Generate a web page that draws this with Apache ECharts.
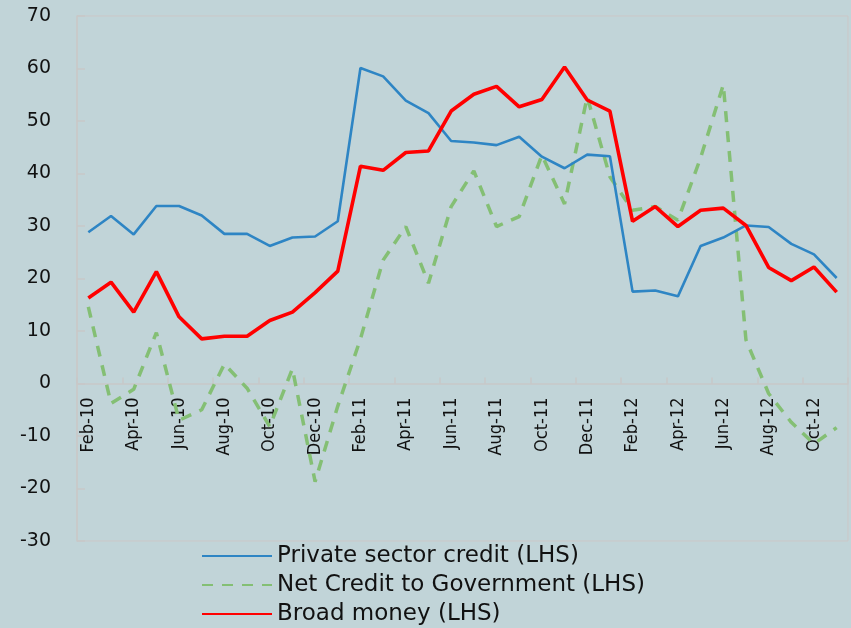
<!DOCTYPE html>
<html>
<head>
<meta charset="utf-8">
<script src="https://cdn.jsdelivr.net/npm/echarts@6/dist/echarts.min.js"></script>
<style>
html,body{margin:0;padding:0;background:#c1d4d8;}
#c{width:851px;height:628px;}
</style>
</head>
<body>
<div id="c"></div>
<script>
const months = ['Feb-10','Mar-10','Apr-10','May-10','Jun-10','Jul-10','Aug-10','Sep-10','Oct-10','Nov-10','Dec-10','Jan-11',
  'Feb-11','Mar-11','Apr-11','May-11','Jun-11','Jul-11','Aug-11','Sep-11','Oct-11','Nov-11','Dec-11','Jan-12',
  'Feb-12','Mar-12','Apr-12','May-12','Jun-12','Jul-12','Aug-12','Sep-12','Oct-12','Nov-12'];
const privateCredit = [28.8,31.9,28.4,33.8,33.8,32.0,28.5,28.5,26.2,27.8,28.0,30.9,
  60.1,58.5,53.9,51.5,46.2,45.9,45.4,47.0,43.2,41.0,43.6,43.3,
  17.5,17.7,16.6,26.2,27.8,30.1,29.8,26.6,24.6,20.1];
const netCreditGov = [14.6,-3.8,-1.1,9.7,-7.0,-5.0,3.7,-0.9,-8.2,2.8,-18.7,-4.3,
  8.5,23.5,29.9,19.1,33.7,40.5,29.9,31.8,43.5,34.2,54.6,39.4,
  33.0,33.7,31.1,43.0,56.9,8.3,-1.9,-7.4,-11.5,-8.4];
const broadMoney = [16.3,19.3,13.6,21.3,12.7,8.5,9.0,9.0,12.0,13.6,17.3,21.4,
  41.4,40.6,44.0,44.3,51.9,55.1,56.6,52.7,54.1,60.3,54.0,51.9,
  30.9,33.7,29.9,33.0,33.4,30.1,22.1,19.6,22.2,17.4];
const seriesNames = ['Private sector credit (LHS)','Net Credit to Government (LHS)','Broad money (LHS)'];

const legendTops = [539, 568, 597];
const legends = seriesNames.map((n, i) => ({
  orient: 'vertical', left: 196, top: legendTops[i],
  itemWidth: 70, itemHeight: 14, itemGap: 0,
  itemStyle: {color: 'transparent', borderColor: 'transparent', borderWidth: 0, opacity: 0},
  textStyle: {fontFamily: 'DejaVu Sans', fontSize: 23, color: '#111', lineHeight: 24},
  data: [n]
}));

const chart = echarts.init(document.getElementById('c'));
chart.setOption({
  backgroundColor: '#c1d4d8',
  animation: false,
  grid: {left: 77, right: 3, top: 16, bottom: 87, show: true, borderColor: '#cbc7c7', borderWidth: 1, backgroundColor: 'transparent'},
  legend: legends,
  xAxis: {
    type: 'category', data: months, boundaryGap: true,
    offset: -157.5,
    axisLine: {onZero: true, lineStyle: {color: '#c8c8c8', width: 1.5}},
    axisTick: {show: true, inside: true, length: 6, interval: 1, lineStyle: {color: '#c8c8c8', width: 1.5}},
    axisLabel: {interval: 1, rotate: 90, margin: 14, fontFamily: 'DejaVu Sans Condensed, DejaVu Sans', fontSize: 18, color: '#111'},
    splitLine: {show: false}
  },
  yAxis: {
    type: 'value', min: -30, max: 70, interval: 10,
    axisLine: {show: true, lineStyle: {color: '#c8c8c8', width: 1.5}},
    axisTick: {show: true, inside: true, length: 8, lineStyle: {color: '#c8c8c8', width: 1.5}},
    axisLabel: {margin: 26, fontFamily: 'DejaVu Sans', fontSize: 19, color: '#111'},
    splitLine: {show: false}
  },
  series: [
    {name: seriesNames[0], type: 'line', data: privateCredit, symbol: 'none', z: 3,
     lineStyle: {color: '#2e85c4', width: 2.6}, itemStyle: {color: '#2e85c4'}},
    {name: seriesNames[1], type: 'line', data: netCreditGov, symbol: 'none', z: 2,
     lineStyle: {color: '#84bf74', width: 3.5, type: [11, 9]}, itemStyle: {color: '#84bf74'}},
    {name: seriesNames[2], type: 'line', data: broadMoney, symbol: 'none', z: 4,
     lineStyle: {color: '#ff0000', width: 3.6}, itemStyle: {color: '#ff0000'}}
  ]
});
</script>
</body>
</html>
